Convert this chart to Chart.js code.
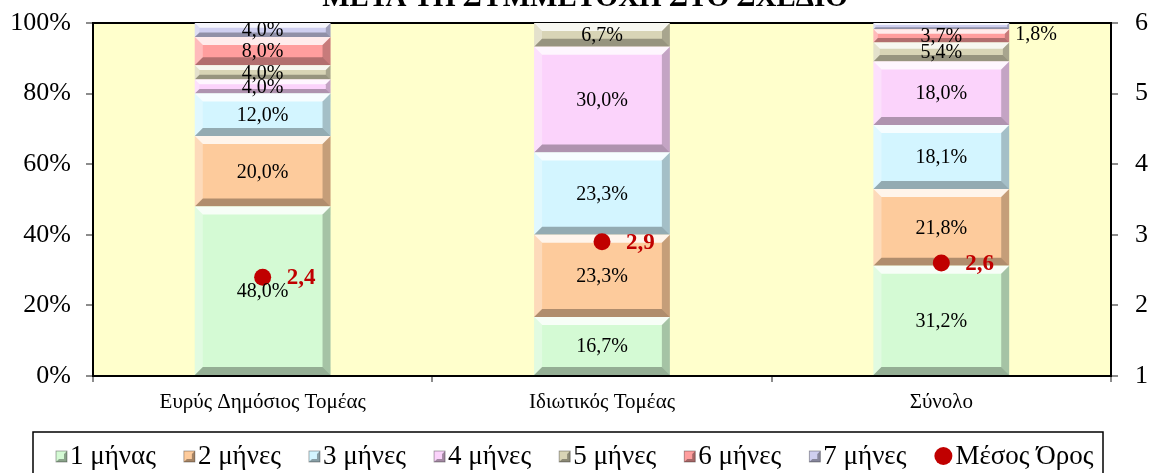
<!DOCTYPE html>
<html>
<head>
<meta charset="utf-8">
<script src="https://cdn.jsdelivr.net/npm/chart.js@4/dist/chart.umd.min.js"></script>
<style>
  html, body { margin: 0; padding: 0; background: #fff; }
  #wrap { width: 1153px; height: 473px; }
</style>
</head>
<body>
<div id="wrap"><canvas id="chart" width="1153" height="473"></canvas></div>
<script>
// Categories and series (percent of each group)
const categories = ['Ευρύς Δημόσιος Τομέας', 'Ιδιωτικός Τομέας', 'Σύνολο'];
const seriesNames = ['1 μήνας', '2 μήνες', '3 μήνες', '4 μήνες', '5 μήνες', '6 μήνες', '7 μήνες'];
const month1 = [48.0, 16.7, 31.2];
const month2 = [20.0, 23.3, 21.8];
const month3 = [12.0, 23.3, 18.1];
const month4 = [4.0, 30.0, 18.0];
const month5 = [4.0, 6.7, 5.4];
const month6 = [8.0, 0, 3.7];
const month7 = [4.0, 0, 1.8];
const meanMonths = [2.4, 2.9, 2.6];
const meanName = 'Μέσος Όρος';
const leftTicks = [0, 20, 40, 60, 80, 100];
const rightTicks = [1, 2, 3, 4, 5, 6];

const seriesColors = ['#D4FAD4', '#FDCB9C', '#D3F5FF', '#FBD3FB', '#D8D4B6', '#FF9E9E', '#CFCFF0'];
const FONT = '"Liberation Serif", "Times New Roman", serif';

function fmt(v, d) {
    return v.toFixed(d).replace('.', ',');
}

// Plot background, frame and title
const framePlugin = {
    id: 'frame',
    beforeDatasetsDraw(chart) {
        const a = chart.chartArea;
        const ctx = chart.ctx;
        ctx.save();
        ctx.fillStyle = '#FFFFCC';
        ctx.fillRect(a.left, a.top, a.right - a.left, a.bottom - a.top);
        ctx.strokeStyle = '#000';
        ctx.lineWidth = 2;
        ctx.strokeRect(a.left, a.top, a.right - a.left, a.bottom - a.top);
        ctx.restore();
    },
    afterDraw(chart) {
        const ctx = chart.ctx;
        ctx.save();
        ctx.fillStyle = '#000';
        ctx.font = 'bold 29px ' + FONT;
        ctx.textAlign = 'center';
        ctx.textBaseline = 'alphabetic';
        ctx.fillText('ΜΕΤΑ ΤΗ ΣΥΜΜΕΤΟΧΗ ΣΤΟ ΣΧΕΔΙΟ', 585, 6);
        ctx.restore();
    }
};

// Bevel look on every bar segment (drawn right after each bar dataset)
const bevelPlugin = {
    id: 'bevel',
    afterDatasetDraw(chart, args) {
        const ds = chart.data.datasets[args.index];
        if (ds.type !== 'bar') return;
        const ctx = chart.ctx;
        ctx.save();
        args.meta.data.forEach(el => {
            const top = Math.min(el.y, el.base), bot = Math.max(el.y, el.base);
            const h = bot - top;
            if (h <= 0.5) return;
            const x0 = el.x - el.width / 2, x1 = el.x + el.width / 2;
            const b = Math.min(8, h / 3);
            const poly = (pts, fill) => {
                ctx.beginPath();
                ctx.moveTo(pts[0][0], pts[0][1]);
                for (let k = 1; k < pts.length; k++) ctx.lineTo(pts[k][0], pts[k][1]);
                ctx.closePath();
                ctx.fillStyle = fill;
                ctx.fill();
            };
            poly([[x0, top], [x1, top], [x1 - b, top + b], [x0 + b, top + b]], 'rgba(255,255,255,0.8)');
            poly([[x0, top], [x0 + b, top + b], [x0 + b, bot - b], [x0, bot]], 'rgba(255,255,255,0.3)');
            poly([[x1, top], [x1, bot], [x1 - b, bot - b], [x1 - b, top + b]], 'rgba(0,0,0,0.22)');
            poly([[x0, bot], [x1, bot], [x1 - b, bot - b], [x0 + b, bot - b]], 'rgba(0,0,0,0.3)');
        });
        ctx.restore();
    }
};

// Value labels on bars and the mean points
const labelPlugin = {
    id: 'labels',
    afterDatasetsDraw(chart) {
        const ctx = chart.ctx;
        ctx.save();
        chart.data.datasets.forEach((ds, i) => {
            const meta = chart.getDatasetMeta(i);
            meta.data.forEach((el, j) => {
                const v = ds.data[j];
                if (ds.type === 'bar') {
                    if (!v) return;
                    const h = Math.abs(el.base - el.y);
                    const cy = (el.y + el.base) / 2;
                    ctx.font = '20px ' + FONT;
                    ctx.fillStyle = '#000';
                    ctx.textBaseline = 'middle';
                    if (h < 8) {
                        ctx.textAlign = 'left';
                        ctx.fillText(fmt(v, 1) + '%', el.x + el.width / 2 + 6, cy + 9);
                    } else {
                        ctx.textAlign = 'center';
                        ctx.fillText(fmt(v, 1) + '%', el.x, cy + 1);
                    }
                } else {
                    ctx.font = 'bold 23px ' + FONT;
                    ctx.fillStyle = '#C00000';
                    ctx.textAlign = 'left';
                    ctx.textBaseline = 'middle';
                    ctx.fillText(fmt(v, 1), el.x + 24, el.y + 1);
                }
            });
        });
        ctx.restore();
    }
};

// Boxed legend under the chart
const legendPlugin = {
    id: 'boxLegend',
    afterDraw(chart) {
        const ctx = chart.ctx;
        ctx.save();
        ctx.strokeStyle = '#000';
        ctx.lineWidth = 1.5;
        ctx.strokeRect(33, 432, 1070, 60);
        ctx.font = '27px ' + FONT;
        ctx.textBaseline = 'middle';
        ctx.textAlign = 'left';
        const y = 456;
        let x = 56;
        chart.data.datasets.forEach(ds => {
            if (ds.type === 'bar') {
                ctx.fillStyle = ds.backgroundColor;
                ctx.fillRect(x, y - 5, 11, 11);
                ctx.fillStyle = 'rgba(0,0,0,0.35)';
                ctx.beginPath();
                ctx.moveTo(x + 11, y - 5); ctx.lineTo(x + 11, y + 6); ctx.lineTo(x, y + 6);
                ctx.lineTo(x + 3, y + 3); ctx.lineTo(x + 8, y + 3); ctx.lineTo(x + 8, y - 2);
                ctx.closePath();
                ctx.fill();
                ctx.strokeStyle = 'rgba(0,0,0,0.4)';
                ctx.lineWidth = 0.8;
                ctx.strokeRect(x, y - 5, 11, 11);
            } else {
                ctx.fillStyle = '#C00000';
                ctx.beginPath();
                ctx.arc(x + 9, y, 9, 0, Math.PI * 2);
                ctx.fill();
                x += 7;
            }
            ctx.fillStyle = '#000';
            ctx.fillText(ds.label, x + 14, y + 1);
            x += 14 + ctx.measureText(ds.label).width + 28;
        });
        ctx.restore();
    }
};

// Let the plot area use the full height (tick labels may overflow it)
function noVerticalPadding(scale) {
    scale.paddingTop = 0;
    scale.paddingBottom = 0;
}

const monthData = [month1, month2, month3, month4, month5, month6, month7];
const datasets = monthData.map((d, i) => ({
    type: 'bar',
    label: seriesNames[i],
    data: d,
    backgroundColor: seriesColors[i],
    borderWidth: 0,
    yAxisID: 'y',
    stack: 'months',
    order: 2
}));
datasets.push({
    type: 'line',
    label: meanName,
    data: meanMonths,
    yAxisID: 'y2',
    showLine: false,
    pointRadius: 8.5,
    pointHoverRadius: 8.5,
    pointBackgroundColor: '#C00000',
    pointBorderWidth: 0,
    borderColor: '#C00000',
    order: 1
});

new Chart(document.getElementById('chart'), {
    data: { labels: categories, datasets: datasets },
    options: {
        responsive: false,
        animation: false,
        layout: { padding: { top: 23, bottom: 57, left: 0, right: 0 } },
        datasets: { bar: { categoryPercentage: 1, barPercentage: 0.4 } },
        plugins: { legend: { display: false }, tooltip: { enabled: false } },
        scales: {
            x: {
                stacked: true,
                grid: { offset: true, drawOnChartArea: false, tickLength: 6, color: '#8C8C8C', lineWidth: 2 },
                border: { color: '#8C8C8C', width: 2 },
                ticks: { color: '#000', font: { family: FONT, size: 21 }, padding: 8 },
                afterFit(scale) { scale.height = 40; }
            },
            y: {
                stacked: true,
                min: 0, max: 100,
                afterBuildTicks(scale) { scale.ticks = leftTicks.map(v => ({ value: v })); },
                grid: { drawOnChartArea: false, tickLength: 7, color: '#8C8C8C', lineWidth: 2 },
                border: { color: '#8C8C8C', width: 2 },
                ticks: { color: '#000', font: { family: FONT, size: 26 }, padding: 15, callback: v => v + '%' },
                afterFit(scale) { scale.width = 93; noVerticalPadding(scale); }
            },
            y2: {
                position: 'right',
                min: 1, max: 6,
                afterBuildTicks(scale) { scale.ticks = rightTicks.map(v => ({ value: v })); },
                grid: { drawOnChartArea: false, tickLength: 7, color: '#8C8C8C', lineWidth: 2 },
                border: { color: '#8C8C8C', width: 2 },
                ticks: { color: '#000', font: { family: FONT, size: 26 }, padding: 17 },
                afterFit(scale) { scale.width = 42; noVerticalPadding(scale); }
            }
        }
    },
    plugins: [framePlugin, bevelPlugin, labelPlugin, legendPlugin]
});
</script>
</body>
</html>
